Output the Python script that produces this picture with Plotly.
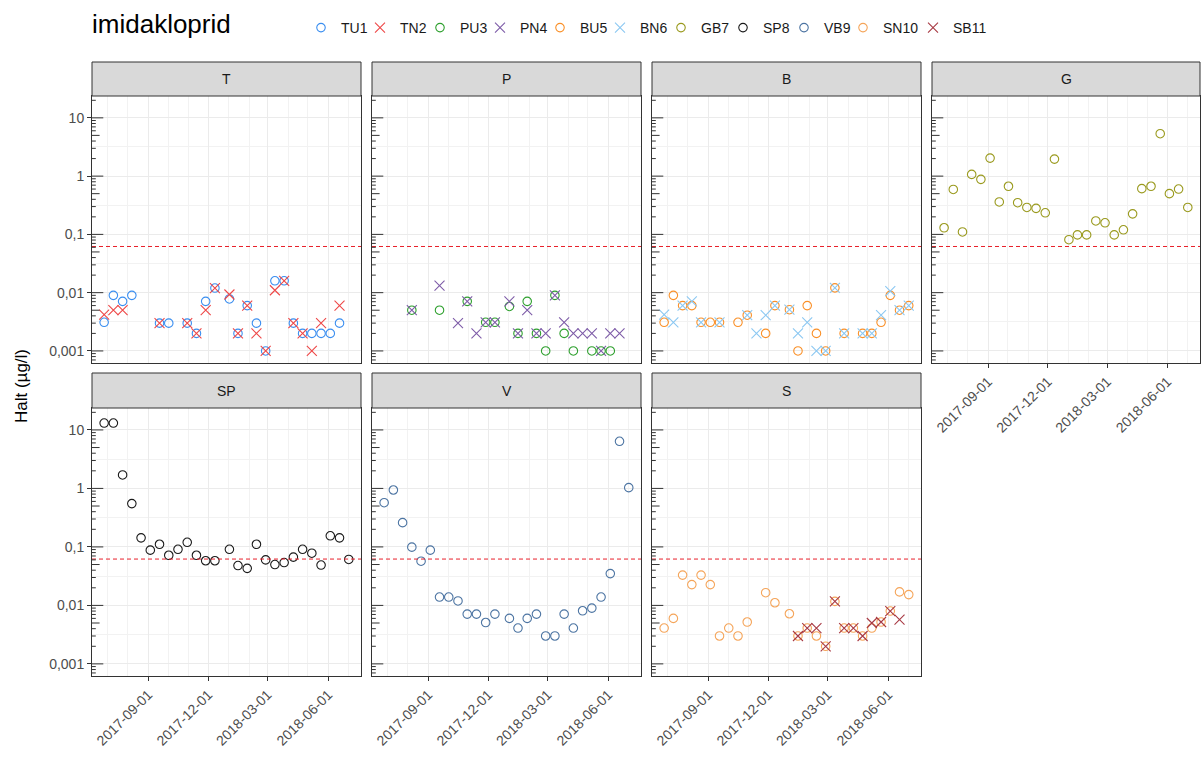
import plotly.graph_objects as go
import math

# ---------------- data ----------------
dates = ["2017-06-26", "2017-07-10", "2017-07-24", "2017-08-07", "2017-08-21",
         "2017-09-04", "2017-09-18", "2017-10-02", "2017-10-16", "2017-10-30",
         "2017-11-13", "2017-11-27", "2017-12-11", "2018-01-02", "2018-01-15",
         "2018-01-29", "2018-02-12", "2018-02-26", "2018-03-12", "2018-03-26",
         "2018-04-09", "2018-04-23", "2018-05-07", "2018-05-21", "2018-06-04",
         "2018-06-18", "2018-07-02"]
N = None
TU1 = [0.0031, 0.009, 0.0071, 0.009, N, N, 0.003, 0.003, N, 0.003, 0.002, 0.0071, 0.012, 0.0078,
       0.002, 0.006, 0.003, 0.001, 0.016, 0.016, 0.003, 0.002, 0.002, 0.002, 0.002, 0.003, N]
TN2 = [0.0042, 0.005, 0.005, N, N, N, 0.003, N, N, 0.003, 0.002, 0.005, 0.012, 0.0093,
       0.002, 0.006, 0.002, 0.001, 0.011, 0.016, 0.003, 0.002, 0.001, 0.003, N, 0.006, N]
PU3 = [N, N, N, 0.005, N, N, 0.005, N, N, 0.0071, N, 0.0031, 0.0031, 0.0058,
       0.002, 0.0071, 0.002, 0.001, 0.009, 0.002, 0.001, N, 0.001, 0.001, 0.001, N, N]
PN4 = [N, N, N, 0.005, N, N, 0.0132, N, 0.003, 0.0071, 0.002, 0.0031, 0.0031, 0.0071,
       0.002, 0.005, 0.002, 0.002, 0.009, 0.0031, 0.002, 0.002, 0.002, 0.001, 0.002, 0.002, N]
BU5 = [0.0031, 0.009, 0.006, 0.006, 0.0031, 0.0031, 0.0031, N, 0.0031, 0.0041, N, 0.002, 0.006, 0.0051,
       0.001, 0.006, 0.002, 0.001, 0.0121, 0.002, N, 0.002, 0.002, 0.0031, 0.009, 0.005, 0.006]
BN6 = [0.0042, 0.0031, 0.006, 0.0071, 0.0031, N, 0.0031, N, N, 0.0041, 0.002, 0.0041, 0.006, 0.0051,
       0.002, 0.0031, 0.001, 0.001, 0.0121, 0.002, N, 0.002, 0.002, 0.0041, 0.0106, 0.005, 0.006]
GB7 = [0.13, 0.59, 0.11, 1.07, 0.88, 2.04, 0.36, 0.67, 0.35, 0.29, 0.28, 0.235, 1.96, 0.081,
       0.098, 0.098, 0.17, 0.158, 0.098, 0.12, 0.225, 0.61, 0.67, 5.35, 0.50, 0.60, 0.29]
SP8 = [13.1, 13.1, 1.7, 0.55, 0.143, 0.088, 0.111, 0.072, 0.091, 0.12, 0.072, 0.058, 0.058, 0.091,
       0.048, 0.043, 0.111, 0.06, 0.05, 0.054, 0.067, 0.091, 0.078, 0.049, 0.155, 0.143, 0.061]
VB9 = [0.57, 0.94, 0.26, 0.099, 0.057, 0.088, 0.0139, 0.0139, 0.0119, 0.0071, 0.0071, 0.0051, 0.0071, 0.006,
       0.0041, 0.006, 0.0071, 0.003, 0.003, 0.0071, 0.0041, 0.0081, 0.009, 0.0139, 0.035, 6.4, 1.03]
SN10 = [0.0041, 0.006, 0.033, 0.0227, 0.033, 0.0227, 0.003, 0.0041, 0.003, 0.0052, N, 0.0165, 0.0111, 0.0072,
        0.003, 0.0041, 0.003, 0.002, 0.0117, 0.0041, 0.0041, 0.003, 0.0041, 0.0052, 0.008, 0.017, 0.0153]
SB11 = [N, N, N, N, N, N, N, N, N, N, N, N, N, N,
        0.003, 0.0041, 0.0041, 0.002, 0.0117, 0.0041, 0.0041, 0.003, 0.005, 0.0052, 0.008, 0.0057, N]

threshold = 0.062
panels = ["T", "P", "B", "G", "SP", "V", "S"]
series_names = ["TU1", "TN2", "PU3", "PN4", "BU5", "BN6", "GB7", "SP8", "VB9", "SN10", "SB11"]
series_values = [TU1, TN2, PU3, PN4, BU5, BN6, GB7, SP8, VB9, SN10, SB11]
series_panel = ["T", "T", "P", "P", "B", "B", "G", "SP", "V", "S", "S"]
series_shape = ["o", "x", "o", "x", "o", "x", "o", "o", "o", "o", "x"]
series_color = ["#3A8EF0", "#EE4848", "#2EA02E", "#7E5CA8", "#FA9028", "#8CC8F2",
                "#9A9A1E", "#1A1A1A", "#4C74A2", "#F5A55A", "#A83A44"]

y_tickvals = [0.001, 0.01, 0.1, 1, 10]
y_ticktext = ["0,001", "0,01", "0,1", "1", "10"]
x_tickvals = ["2017-09-01", "2017-12-01", "2018-03-01", "2018-06-01"]
x_minor = ["2017-07-01", "2017-08-01", "2017-10-01", "2017-11-01", "2018-01-01",
           "2018-02-01", "2018-04-01", "2018-05-01", "2018-07-01"]
x_range = ["2017-06-07 14:00", "2018-07-20 14:00"]

# ---------------- layout geometry (px) ----------------
W, H = 1201, 763
col_px = [(92, 361), (372, 641), (652, 921), (932, 1200)]
row_px = [(96, 363), (408, 676)]
strip_px = [(62, 96), (373, 408)]
panel_pos = {"T": (0, 0), "P": (1, 0), "B": (2, 0), "G": (3, 0),
             "SP": (0, 1), "V": (1, 1), "S": (2, 1)}
bottom_panels = {"G", "SP", "V", "S"}
left_panels = {"T", "SP"}
legend_symbol_px = [323, 382, 442, 502, 562, 622, 683, 745, 806, 865, 935]

ylog_lo, ylog_hi = -3.207, 1.375
half_decades = [10 ** (k + 0.5) for k in range(-4, 2)]
FONT = "Liberation Sans, Arial"

fig = go.Figure()
legend_layouts = {}
for i, name in enumerate(series_names):
    pidx = panels.index(series_panel[i]) + 1
    sfx = "" if pidx == 1 else str(pidx)
    if series_shape[i] == "o":
        marker = dict(symbol="circle-open", size=8.5, color=series_color[i],
                      line=dict(width=1.1, color=series_color[i]))
    else:
        marker = dict(symbol="x-thin-open", size=10, color=series_color[i],
                      line=dict(width=1.1, color=series_color[i]))
    lg = "legend" if i == 0 else "legend%d" % (i + 1)
    fig.add_trace(go.Scatter(x=dates, y=series_values[i], mode="markers", name=name,
                             marker=marker, xaxis="x" + sfx, yaxis="y" + sfx,
                             cliponaxis=False, legend=lg))
    legend_layouts[lg] = dict(orientation="h", x=(legend_symbol_px[i] - 22) / W,
                              y=1 - 28 / H, xanchor="left", yanchor="middle",
                              font=dict(family=FONT, size=14, color="#1A1A1A"),
                              itemwidth=30, bgcolor="rgba(0,0,0,0)")

shapes = []
annotations = []
tick_color = "#333333"
grid_color = "#EBEBEB"
for pidx, pname in enumerate(panels, start=1):
    c, r = panel_pos[pname]
    x0, x1 = col_px[c]
    y0, y1 = row_px[r]
    sfx = "" if pidx == 1 else str(pidx)
    xa = dict(domain=[x0 / W, x1 / W], type="date", range=x_range,
              anchor="y" + sfx, tickmode="array", tickvals=x_tickvals,
              ticktext=x_tickvals, showgrid=True, gridcolor=grid_color, gridwidth=1,
              minor=dict(tickmode="array", tickvals=x_minor, showgrid=True,
                         gridcolor="#F2F2F2", gridwidth=1, ticks=""),
              showline=True, mirror=True, linecolor=tick_color, linewidth=1,
              zeroline=False, tickangle=-45,
              tickfont=dict(family=FONT, size=14, color="#4D4D4D"))
    if pname in bottom_panels:
        xa.update(showticklabels=True, ticks="outside", ticklen=4, tickcolor=tick_color, tickwidth=1)
    else:
        xa.update(showticklabels=False, ticks="")
    ya = dict(domain=[1 - y1 / H, 1 - y0 / H], type="log", range=[ylog_lo, ylog_hi],
              anchor="x" + sfx, tickmode="array", tickvals=y_tickvals, ticktext=y_ticktext,
              showgrid=True, gridcolor=grid_color, gridwidth=1,
              minor=dict(tickmode="array", tickvals=half_decades, showgrid=True,
                         gridcolor="#F2F2F2", gridwidth=1, ticks=""),
              showline=True, mirror=True, linecolor=tick_color, linewidth=1,
              zeroline=False,
              tickfont=dict(family=FONT, size=14, color="#4D4D4D"))
    if pname in left_panels:
        ya.update(showticklabels=True, ticks="outside", ticklen=4, tickcolor=tick_color, tickwidth=1)
    else:
        ya.update(showticklabels=False, ticks="")
    fig.layout["xaxis" + sfx] = xa
    fig.layout["yaxis" + sfx] = ya

    # strip
    sy0, sy1 = strip_px[r]
    shapes.append(dict(type="rect", xref="paper", yref="paper",
                       x0=x0 / W, x1=x1 / W, y0=1 - sy1 / H, y1=1 - sy0 / H,
                       fillcolor="#D9D9D9", line=dict(color=tick_color, width=1), layer="above"))
    annotations.append(dict(text=pname, xref="paper", yref="paper",
                            x=(x0 + x1) / 2 / W, y=1 - (sy0 + sy1) / 2 / H,
                            showarrow=False, xanchor="center", yanchor="middle",
                            font=dict(family=FONT, size=14, color="#1A1A1A")))
    # threshold line
    shapes.append(dict(type="line", xref="x" + sfx + " domain", yref="y" + sfx,
                       x0=0, x1=1, y0=threshold, y1=threshold,
                       line=dict(color="#E8202A", width=1, dash="4px,3px"), layer="above"))
    # log ticks (annotation_logticks style)
    pw = x1 - x0
    for k in range(-4, 2):
        for d in range(1, 10):
            v = d * 10 ** k
            lv = math.log10(v)
            if lv < ylog_lo or lv > ylog_hi:
                continue
            ln = 11.3 if d == 1 else (7.6 if d == 5 else 3.8)
            shapes.append(dict(type="line", xref="x" + sfx + " domain", yref="y" + sfx,
                               x0=0, x1=ln / pw, y0=v, y1=v,
                               line=dict(color=tick_color, width=1), layer="above"))

annotations.append(dict(text="Halt (µg/l)", xref="paper", yref="paper",
                        x=21 / W, y=1 - 386 / H, textangle=-90, showarrow=False,
                        xanchor="center", yanchor="middle",
                        font=dict(family=FONT, size=17, color="#000000")))

fig.update_layout(
    width=W, height=H,
    margin=dict(l=0, r=0, t=0, b=0),
    paper_bgcolor="white", plot_bgcolor="white",
    title=dict(text="imidakloprid", x=92 / W, y=1 - 24 / H, xanchor="left", yanchor="middle",
               font=dict(family=FONT, size=26, color="#000000")),
    shapes=shapes, annotations=annotations, showlegend=True,
)
fig.update_layout(**legend_layouts)

fig.write_html("out.html", config={"displayModeBar": False},
               post_script="document.body.style.margin='0px';document.body.style.padding='0px';")
